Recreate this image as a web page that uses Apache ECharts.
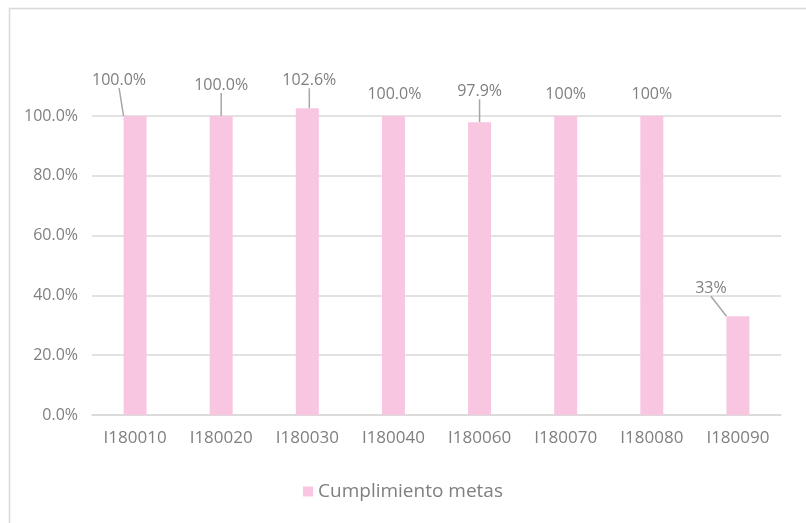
<!DOCTYPE html>
<html><head><meta charset="utf-8">
<script src="https://cdn.jsdelivr.net/npm/echarts@6/dist/echarts.min.js"></script>
<style>html,body{margin:0;padding:0;background:#fff}#c{width:806px;height:523px}</style>
</head><body><div id="c"></div>
<script>
var categories = ['I180010','I180020','I180030','I180040','I180060','I180070','I180080','I180090'];
var values = [1.0, 1.0, 1.026, 1.0, 0.979, 1.0, 1.0, 0.33];
var labelTexts = ['100.0%','100.0%','102.6%','100.0%','97.9%','100%','100%','33%'];
var seriesName = 'Cumplimiento metas';
// label offsets (dx, dy) relative to default top position
var labelShift = [[-16,-23],[0,-18],[2,-15],[1,-9],[0,-18],[0,-9],[0,-9],[-27,-15]];
var showLine = [true,true,true,false,true,false,false,true];

var font = '"Open Sans", Lato, sans-serif';
var txt = '#7f7f7f';
var chart = echarts.init(document.getElementById('c'));
chart.setOption({
  animation:false,
  backgroundColor:'#fff',
  graphic:[{type:'rect',shape:{x:9.5,y:8.5,width:830,height:540},style:{fill:'none',stroke:'#d9d9d9',lineWidth:1.5},silent:true}],
  grid:{left:92,right:25,top:116,bottom:108},
  legend:{bottom:17,left:'center',itemWidth:10,itemHeight:10,itemGap:4,icon:'rect',
    textStyle:{color:txt,fontSize:19,fontFamily:font},data:[seriesName]},
  xAxis:{type:'category',data:categories,
    axisLine:{lineStyle:{color:'#d9d9d9',width:1.5}},axisTick:{show:false},
    axisLabel:{color:txt,fontSize:17,fontFamily:font,margin:15}},
  yAxis:{type:'value',min:0,max:1,interval:0.2,
    axisLine:{show:false},axisTick:{show:false},
    splitLine:{lineStyle:{color:'#d9d9d9',width:1.5}},
    axisLabel:{color:txt,fontSize:16,fontFamily:font,margin:14,
      formatter:function(v){return (v*100).toFixed(1)+'%';}}},
  series:[{type:'bar',name:seriesName,barWidth:23,clip:false,
    itemStyle:{color:'#f9c6e1'},
    data:values.map(function(v,i){return {value:v,labelLine:{show:showLine[i]}};}),
    label:{show:true,position:'top',distance:5,color:txt,fontSize:16,fontFamily:font,
      formatter:function(p){return labelTexts[p.dataIndex];}},
    labelLine:{show:true,lineStyle:{color:'#a6a6a6',width:1.5}},
    labelLayout:function(p){var s=labelShift[p.dataIndex];return {dx:s[0],dy:s[1]};}
  }]
});
</script></body></html>
